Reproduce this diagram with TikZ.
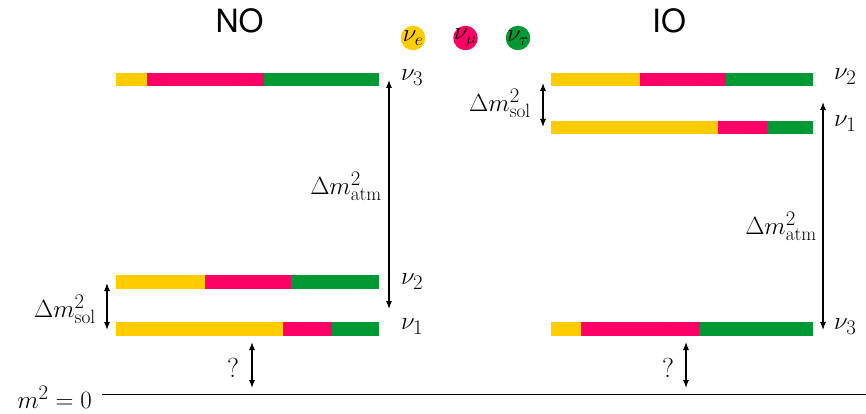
\documentclass[tikz,border=0pt]{standalone}
\usepackage{fontspec}
\setsansfont{TeX Gyre Heros}
\usetikzlibrary{arrows.meta}
\definecolor{nue}{HTML}{FFCC00}
\definecolor{numu}{HTML}{FF0066}
\definecolor{nutau}{HTML}{009933}
% #1 name, #2 top y, #3 x0, #4 end yellow, #5 end pink, #6 x end
\newcommand\nubar[6]{%
  \fill[nue] (#3,#2) rectangle (#4,#2+13.5);
  \fill[numu] (#4,#2) rectangle (#5,#2+13.5);
  \fill[nutau] (#5,#2) rectangle (#6,#2+13.5);
  \coordinate (#1) at (#6,#2+6.75);
}
\begin{document}
\begin{tikzpicture}[x=1pt,y=-1pt,
  lab/.style={font=\fontsize{27.5}{32}\selectfont, inner sep=0pt},
  title/.style={font=\fontsize{32}{36}\sffamily, inner sep=0pt},
  arr/.style={{Latex[length=8pt,width=6pt]}-{Latex[length=8pt,width=6pt]}, line width=1.1pt},
  dot/.style={circle, fill=#1, minimum size=24.5pt, inner sep=-6pt, font=\fontsize{23}{26}\selectfont}]
\useasboundingbox (0,0) rectangle (866,414);

% titles
\node[title] (tNO) at (239.5,20.5) {NO};
\node[title] (tIO) at (669,20.5) {IO};

% legend
\node[dot=nue] (le) at (413,38) {$\nu_e$};
\node[dot=numu] (lm) at (465.5,38) {$\nu_\mu$};
\node[dot=nutau] (lt) at (518,38) {$\nu_\tau$};

% NO bars
\nubar{NO3}{73}{116}{147}{264}{379}
\nubar{NO2}{275}{116}{205}{291}{379}
\nubar{NO1}{322}{116}{283}{332}{379}
\node[lab, anchor=west] (nNO3) at (401,78) {$\nu_3$};
\node[lab, anchor=west] (nNO2) at (401,282) {$\nu_2$};
\node[lab, anchor=west] (nNO1) at (401,327) {$\nu_1$};

% IO bars
\nubar{IO2}{73}{551}{640}{726}{813}
\nubar{IO1}{121}{551}{718}{767}{813}
\nubar{IO3}{322}{551}{581}{699}{813}
\node[lab, anchor=west] (nIO2) at (834,77) {$\nu_2$};
\node[lab, anchor=west] (nIO1) at (834,124) {$\nu_1$};
\node[lab, anchor=west] (nIO3) at (834,327) {$\nu_3$};

% NO arrows
\coordinate (aNOt) at (389,80);
\coordinate (aNOb) at (389,309);
\draw[arr] (aNOt) -- (aNOb);
\node[lab, anchor=east] (atmNO) at (382,186) {$\Delta m^2_{\mathrm{atm}}$};
\coordinate (sNOt) at (107,283);
\coordinate (sNOb) at (107,330);
\draw[arr] (sNOt) -- (sNOb);
\node[lab, anchor=east] (solNO) at (96,309) {$\Delta m^2_{\mathrm{sol}}$};
\coordinate (qNOt) at (252,342);
\coordinate (qNOb) at (252,388);
\draw[arr] (qNOt) -- (qNOb);
\node[lab] (qNO) at (233,368) {?};

% IO arrows
\coordinate (aIOt) at (823,102);
\coordinate (aIOb) at (823,330);
\draw[arr] (aIOt) -- (aIOb);
\node[lab, anchor=east] (atmIO) at (817,226) {$\Delta m^2_{\mathrm{atm}}$};
\coordinate (sIOt) at (543,83);
\coordinate (sIOb) at (543,127);
\draw[arr] (sIOt) -- (sIOb);
\node[lab, anchor=east] (solIO) at (531,103) {$\Delta m^2_{\mathrm{sol}}$};
\coordinate (qIOt) at (686,342);
\coordinate (qIOb) at (686,388);
\draw[arr] (qIOt) -- (qIOb);
\node[lab] (qIO) at (668,368) {?};

% zero line
\coordinate (z0) at (102,394);
\coordinate (z1) at (866,394);
\draw[line width=1pt] (z0) -- (z1);
\node[lab, anchor=east] (zlab) at (92,397) {$m^2=0$};
\end{tikzpicture}
\end{document}
